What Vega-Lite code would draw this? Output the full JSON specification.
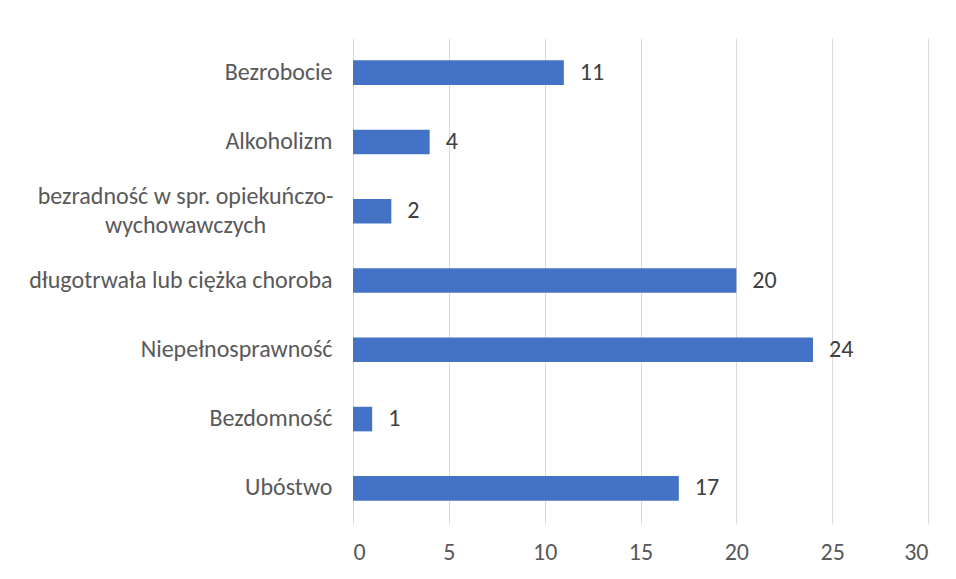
{
  "$schema": "https://vega.github.io/schema/vega-lite/v6.json",
  "width": 575,
  "height": 485,
  "autosize": {"type": "none"},
  "padding": {"left": 353, "top": 38, "right": 28, "bottom": 56},
  "background": "white",
  "config": {
    "font": "Calibri, Carlito, Lato, sans-serif",
    "view": {"stroke": null},
    "axis": {"labelFont": "Calibri, Carlito, Lato, sans-serif", "labelColor": "#595959", "labelFontSize": 24, "domain": false, "ticks": false, "gridColor": "#d9d9d9", "gridWidth": 1}
  },
  "data": {
    "values": [
      {"kategoria": "Bezrobocie", "liczba": 11},
      {"kategoria": "Alkoholizm", "liczba": 4},
      {"kategoria": "bezradność w spr. opiekuńczo-wychowawczych", "liczba": 2},
      {"kategoria": "długotrwała lub ciężka choroba", "liczba": 20},
      {"kategoria": "Niepełnosprawność", "liczba": 24},
      {"kategoria": "Bezdomność", "liczba": 1},
      {"kategoria": "Ubóstwo", "liczba": 17}
    ]
  },
  "encoding": {
    "y": {
      "field": "kategoria",
      "type": "nominal",
      "sort": null,
      "scale": {"paddingInner": 0.645, "paddingOuter": 0.3225},
      "axis": {
        "title": null,
        "grid": false,
        "labelPadding": {"condition": {"test": "datum.value == 'bezradność w spr. opiekuńczo-wychowawczych'", "value": 168}, "value": 21},
        "labelAlign": {"condition": {"test": "datum.value == 'bezradność w spr. opiekuńczo-wychowawczych'", "value": "center"}, "value": "right"},
        "labelLineHeight": 29,
        "labelLimit": 400,
        "labelOffset": {"condition": {"test": "datum.value == 'bezradność w spr. opiekuńczo-wychowawczych'", "value": -14}, "value": 0},
        "labelExpr": "datum.value == 'bezradność w spr. opiekuńczo-wychowawczych' ? ['bezradność w spr. opiekuńczo-', 'wychowawczych'] : datum.label"
      }
    },
    "x": {
      "field": "liczba",
      "type": "quantitative",
      "scale": {"domain": [0, 30], "nice": false},
      "axis": {"title": null, "values": [0, 5, 10, 15, 20, 25, 30], "grid": true, "labelPadding": 17, "labelBaseline": "top"}
    }
  },
  "layer": [
    {"mark": {"type": "bar", "color": "#4472C4"}},
    {
      "mark": {"type": "text", "align": "left", "dx": 16, "fontSize": 24, "color": "#404040"},
      "encoding": {"text": {"field": "liczba", "type": "quantitative"}}
    }
  ]
}
